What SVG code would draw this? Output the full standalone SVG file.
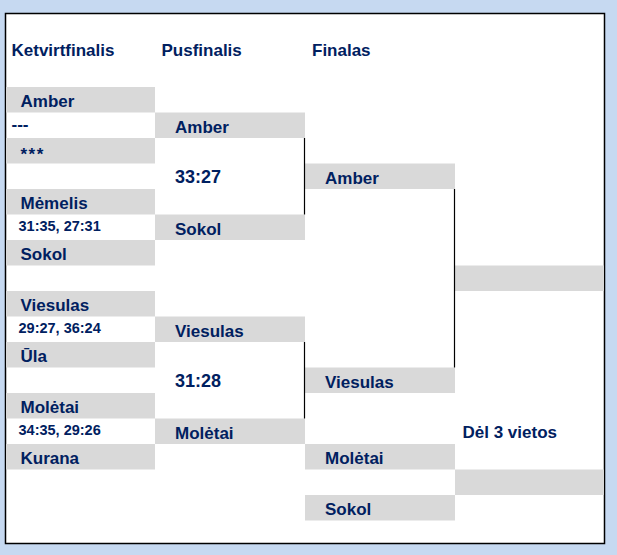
<svg xmlns="http://www.w3.org/2000/svg" width="617" height="555" viewBox="0 0 617 555">
<style>
.t{font-family:"Liberation Sans",Arial,sans-serif;font-weight:bold;fill:#002060;font-size:17px}
.s{font-size:14.5px}
.m{font-size:18px}
.c{fill:#d9d9d9}
.ln{stroke:#000;stroke-width:1.2;fill:none}
</style>
<rect x="0" y="0" width="617" height="555" fill="#c6d9f1"/>
<rect x="5.5" y="13.5" width="599" height="530" fill="#fff" stroke="#000" stroke-width="1.5"/>
<g id="headers">
<text class="t" x="11.5" y="56">Ketvirtfinalis</text>
<text class="t" x="161.5" y="56">Pusfinalis</text>
<text class="t" x="312" y="56">Finalas</text>
</g>
<g id="qf1">
<rect class="c" x="6" y="87" width="149" height="25.5"/>
<text class="t" x="20.5" y="107">Amber</text>
<text class="t" x="11.5" y="130">---</text>
<rect class="c" x="6" y="138" width="149" height="25.5"/>
<text class="t" x="20.5" y="160" font-size="20" letter-spacing="1.5">***</text>
</g>
<g id="qf2">
<rect class="c" x="6" y="189" width="149" height="25.5"/>
<text class="t" x="20.5" y="209">Mėmelis</text>
<text class="t s" x="18.5" y="231">31:35, 27:31</text>
<rect class="c" x="6" y="240" width="149" height="25.5"/>
<text class="t" x="20.5" y="260">Sokol</text>
</g>
<g id="qf3">
<rect class="c" x="6" y="291" width="149" height="25.5"/>
<text class="t" x="20.5" y="311">Viesulas</text>
<text class="t s" x="18.5" y="333">29:27, 36:24</text>
<rect class="c" x="6" y="342" width="149" height="25.5"/>
<text class="t" x="20.5" y="362">Ūla</text>
</g>
<g id="qf4">
<rect class="c" x="6" y="393" width="149" height="25.5"/>
<text class="t" x="20.5" y="413">Molėtai</text>
<text class="t s" x="18.5" y="435">34:35, 29:26</text>
<rect class="c" x="6" y="444" width="149" height="25.5"/>
<text class="t" x="20.5" y="464">Kurana</text>
</g>
<g id="sf1">
<rect class="c" x="155" y="112.5" width="150" height="25.5"/>
<text class="t" x="175" y="132.5">Amber</text>
<text class="t m" x="175" y="183">33:27</text>
<rect class="c" x="155" y="214.5" width="150" height="25.5"/>
<text class="t" x="175" y="234.5">Sokol</text>
</g>
<g id="sf2">
<rect class="c" x="155" y="316.5" width="150" height="25.5"/>
<text class="t" x="175" y="336.5">Viesulas</text>
<text class="t m" x="175" y="387">31:28</text>
<rect class="c" x="155" y="418.5" width="150" height="25.5"/>
<text class="t" x="175" y="438.5">Molėtai</text>
</g>
<g id="final">
<rect class="c" x="305" y="163.5" width="150" height="25.5"/>
<text class="t" x="325" y="183.5">Amber</text>
<rect class="c" x="305" y="367.5" width="150" height="25.5"/>
<text class="t" x="325" y="387.5">Viesulas</text>
</g>
<g id="winner">
<rect class="c" x="455" y="265.5" width="149" height="25.5"/>
</g>
<g id="third">
<rect class="c" x="305" y="444" width="150" height="25.5"/>
<text class="t" x="325" y="464">Molėtai</text>
<rect class="c" x="305" y="495" width="150" height="25.5"/>
<text class="t" x="325" y="515">Sokol</text>
<text class="t" x="462.5" y="437.5">Dėl 3 vietos</text>
<rect class="c" x="455" y="469.5" width="149" height="25.5"/>
</g>
<g id="connectors">
<line class="ln" x1="304.5" y1="138" x2="304.5" y2="214.5"/>
<line class="ln" x1="304.5" y1="342" x2="304.5" y2="418.5"/>
<line class="ln" x1="454.5" y1="189" x2="454.5" y2="367.5"/>
</g>
</svg>
